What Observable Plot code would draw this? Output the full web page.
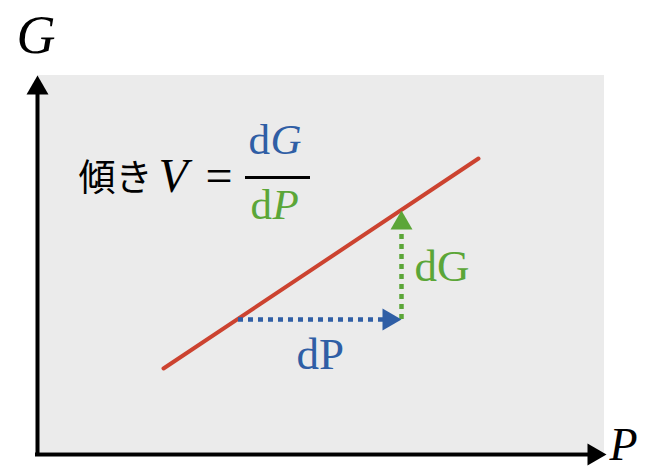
<!DOCTYPE html>
<html>
<head>
<meta charset="utf-8">
<script src="https://cdn.jsdelivr.net/npm/d3@7"></script>
<script src="https://cdn.jsdelivr.net/npm/@observablehq/plot@0.6"></script>
<style>
  html, body { margin: 0; padding: 0; background: #fff; }
  #chart svg { display: block; }
</style>
</head>
<body>
<div id="chart"></div>
<script>
// ---- data (P = horizontal quantity, G = vertical quantity) ----
const panelP = [37, 604];
const panelG = [20, 397];
const axisOrigin = {P: 37, G: 18};
const axisEnd = {P: 606, G: 397};

const lineP = [163, 478];
const lineG = [104, 314];

const dPStart = 238, dPEnd = 401, dPLevel = 153;   // horizontal step
const dGStart = 153, dGEnd = 262, dGAt = 401;      // vertical step

const colors = {red: "#cc4330", blue: "#2f5ea5", green: "#5ba638", bg: "#ebebeb"};
const serif = "Liberation Serif, Times New Roman, serif";
const cjk = "Noto Sans CJK JP, sans-serif";

const labels = [
  {P: 16,  G: 420, text: "G",    size: 54, style: "italic", font: serif, color: "#000"},
  {P: 609, G: 13,  text: "P",    size: 46, style: "italic", font: serif, color: "#000"},
  {P: 78,  G: 282, text: "傾き", size: 37, style: "normal", font: cjk,   color: "#000"},
  {P: 158, G: 281, text: "V",    size: 48, style: "italic", font: serif, color: "#000"},
  {P: 205, G: 281, text: "=",    size: 48, style: "normal", font: serif, color: "#000"},
  {P: 248, G: 319, text: "d",    size: 43, style: "normal", font: serif, color: colors.blue},
  {P: 270, G: 319, text: "G",    size: 43, style: "italic", font: serif, color: colors.blue},
  {P: 250, G: 254, text: "d",    size: 43, style: "normal", font: serif, color: colors.green},
  {P: 272, G: 254, text: "P",    size: 43, style: "italic", font: serif, color: colors.green},
  {P: 414, G: 192, text: "dG",   size: 45, style: "normal", font: serif, color: colors.green},
  {P: 296, G: 104, text: "dP",   size: 45, style: "normal", font: serif, color: colors.blue}
];
const fractionBar = {P1: 245, P2: 310, G: 295};

// triangle head geometry (d3.symbolTriangle centered on centroid)
const headLen = 19;
const headK = headLen / 3;                // |y| in d3 symbolTriangle
const headR = Math.sqrt(headK * headK * 3 * Math.sqrt(3) / Math.PI);
const tipOffset = 2 * headK;

const heads = [
  {P: axisOrigin.P, G: axisEnd.G - tipOffset, rot: 0, color: "#000"},
  {P: axisEnd.P - tipOffset, G: axisOrigin.G, rot: 90, color: "#000"},
  {P: dPEnd - tipOffset, G: dPLevel, rot: 90, color: colors.blue},
  {P: dGAt, G: dGEnd - tipOffset, rot: 0, color: colors.green}
];

const plot = Plot.plot({
  width: 646,
  height: 472,
  margin: 0,
  x: {domain: [0, 646], range: [0, 646], axis: null},
  y: {domain: [0, 472], range: [472, 0], axis: null},
  style: {background: "#fff", overflow: "hidden"},
  marks: [
    Plot.rect([0], {x1: panelP[0], x2: panelP[1], y1: panelG[0], y2: panelG[1], fill: colors.bg}),
    // axes
    Plot.ruleX([axisOrigin.P], {y1: axisOrigin.G - 2, y2: axisEnd.G - 10, stroke: "#000", strokeWidth: 4}),
    Plot.ruleY([axisOrigin.G], {x1: axisOrigin.P - 2, x2: axisEnd.P - 10, stroke: "#000", strokeWidth: 4}),
    // red line
    Plot.line(lineP.map((p, i) => ({P: p, G: lineG[i]})), {x: "P", y: "G", stroke: colors.red, strokeWidth: 4}),
    // dotted steps
    Plot.ruleY([dPLevel], {x1: dPStart, x2: dPEnd - headLen + 2, stroke: colors.blue, strokeWidth: 4.5, strokeDasharray: "5,5"}),
    Plot.ruleX([dGAt], {y1: dGStart, y2: dGEnd - headLen + 2, stroke: colors.green, strokeWidth: 4.5, strokeDasharray: "5,5"}),
    // arrow heads
    Plot.dot(heads, {x: "P", y: "G", symbol: "triangle", r: headR, rotate: "rot", fill: "color", stroke: null}),
    // fraction bar
    Plot.ruleY([fractionBar.G], {x1: fractionBar.P1, x2: fractionBar.P2, stroke: "#000", strokeWidth: 3}),
    // labels
    ...labels.map(l => Plot.text([l], {
      x: "P", y: "G", text: "text", fill: l.color, fontSize: l.size, fontStyle: l.style,
      fontFamily: l.font, textAnchor: "start", lineAnchor: "bottom"
    }))
  ]
});
document.getElementById("chart").appendChild(plot);
</script>
</body>
</html>
